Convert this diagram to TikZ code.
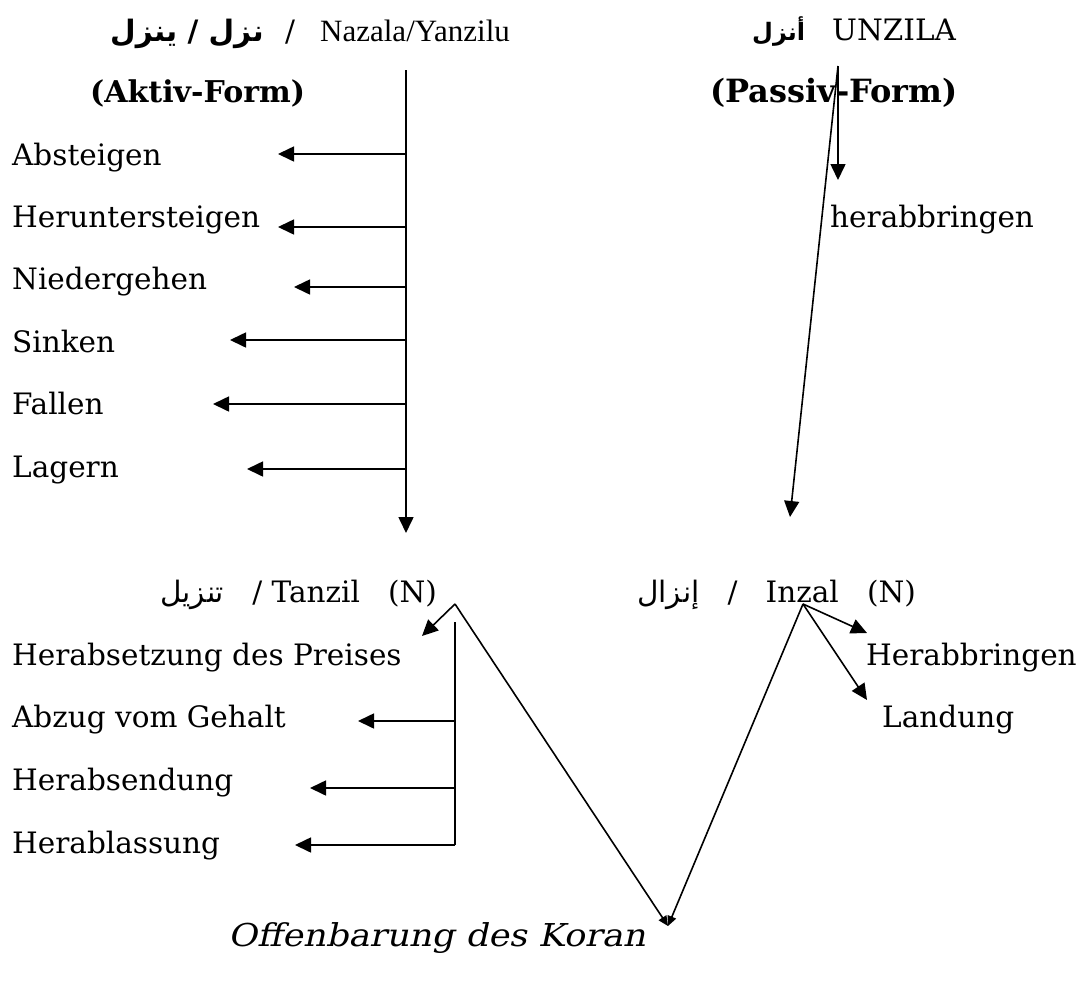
\documentclass[tikz,border=0pt]{standalone}
\usepackage{fontspec}
\setmainfont{DejaVu Serif}
\newfontfamily\arabicfont[Script=Arabic]{DejaVu Sans}
\newfontfamily\slantfont[FakeSlant=0.22,FakeStretch=1.12]{DejaVu Serif}
\newfontfamily\timesfont{Liberation Serif}
\TeXXeTstate=1
\usetikzlibrary{arrows.meta}
\begin{document}
\begin{tikzpicture}[x=1pt,y=-1pt,
  lbl/.style={anchor=base west,inner sep=0pt,font=\fontsize{29.5}{32}\selectfont},
  arr/.style={line width=1.6pt,-{Triangle[length=16pt,width=15pt]}},
  ln/.style={line width=1.6pt},
  smallarr/.style={line width=1.6pt,-{Triangle[length=10pt,width=9pt]}}]
\useasboundingbox (0,0) rectangle (1082,983);
% titles
\node[lbl] (tleftar) at (110,41) {{\arabicfont\bfseries\beginR نزل / ينزل\endR}};
\node[lbl] (tleftsl) at (285,41) {/};
\node[lbl,font=\fontsize{31}{33}\timesfont] (tleft) at (320,41) {Nazala/Yanzilu};
\node[lbl,font=\fontsize{30}{32}\selectfont\bfseries] (aktiv) at (90,102) {(Aktiv-Form)};
\node[lbl,font=\fontsize{24}{30}\selectfont] (tright) at (752,40) {{\arabicfont\bfseries\beginR أنزل\endR}};
\node[lbl] (unzila) at (832,40) {UNZILA};
\node[lbl,font=\fontsize{32}{34}\selectfont\bfseries] (passiv) at (710,102) {(Passiv-Form)};
\node[lbl] (herab1) at (830,227) {herabbringen};
% left list
\node[lbl] (a1) at (12,165) {Absteigen};
\node[lbl] (a2) at (12,227) {Heruntersteigen};
\node[lbl] (a3) at (12,289) {Niedergehen};
\node[lbl] (a4) at (12,352) {Sinken};
\node[lbl] (a5) at (12,414) {Fallen};
\node[lbl] (a6) at (12,477) {Lagern};
% middle
\node[lbl] (tanzil) at (160,602) {{\arabicfont\beginR تنزيل\endR}\ \ \ /\ Tanzil\ \ \ (N)};
\node[lbl] (inzal) at (637,602) {{\arabicfont\beginR إنزال\endR}\ \ \ /\ \ \ Inzal\ \ \ (N)};
\node[lbl] (b1) at (12,665) {Herabsetzung des Preises};
\node[lbl] (b2) at (12,727) {Abzug vom Gehalt};
\node[lbl] (b3) at (12,790) {Herabsendung};
\node[lbl] (b4) at (12,853) {Herablassung};
\node[lbl] (c1) at (866,665) {Herabbringen};
\node[lbl] (c2) at (882,727) {Landung};
\node[lbl,font=\fontsize{31.5}{33}\slantfont] (koran) at (228,946) {Offenbarung des Koran};
% coordinates
\coordinate (lt) at (406,70);
\coordinate (lb) at (406,533);
\coordinate (l1) at (406,154); \coordinate (e1) at (278,154);
\coordinate (l2) at (406,227); \coordinate (e2) at (278,227);
\coordinate (l3) at (406,287); \coordinate (e3) at (294,287);
\coordinate (l4) at (406,340); \coordinate (e4) at (230,340);
\coordinate (l5) at (406,404); \coordinate (e5) at (213,404);
\coordinate (l6) at (406,469); \coordinate (e6) at (247,469);
\coordinate (rt) at (838,66);
\coordinate (rb) at (838,180);
\coordinate (rd) at (790,517);
\coordinate (pk1) at (455,604);
\coordinate (pe1) at (422,636);
\coordinate (mt) at (455,622);
\coordinate (mb) at (455,845);
\coordinate (m2) at (455,721); \coordinate (f2) at (358,721);
\coordinate (m3) at (455,788); \coordinate (f3) at (310,788);
\coordinate (m4) at (455,845); \coordinate (f4) at (295,845);
\coordinate (pk2) at (803,604);
\coordinate (g1) at (867,633);
\coordinate (g2) at (867,700);
\coordinate (bot) at (668,926);
% left trunk
\draw[arr] (lt) -- (lb);
\foreach \i in {1,...,6} \draw[arr] (l\i) -- (e\i);
% right
\draw[arr] (rt) -- (rb);
\draw[arr] (rt) -- (rd);
% tanzil
\draw[arr] (pk1) -- (pe1);
\draw[ln] (mt) -- (mb);
\foreach \i in {2,3,4} \draw[arr] (m\i) -- (f\i);
\draw[smallarr] (pk1) -- (bot);
% inzal
\draw[arr] (pk2) -- (g1);
\draw[arr] (pk2) -- (g2);
\draw[smallarr] (pk2) -- (bot);
\end{tikzpicture}
\end{document}
